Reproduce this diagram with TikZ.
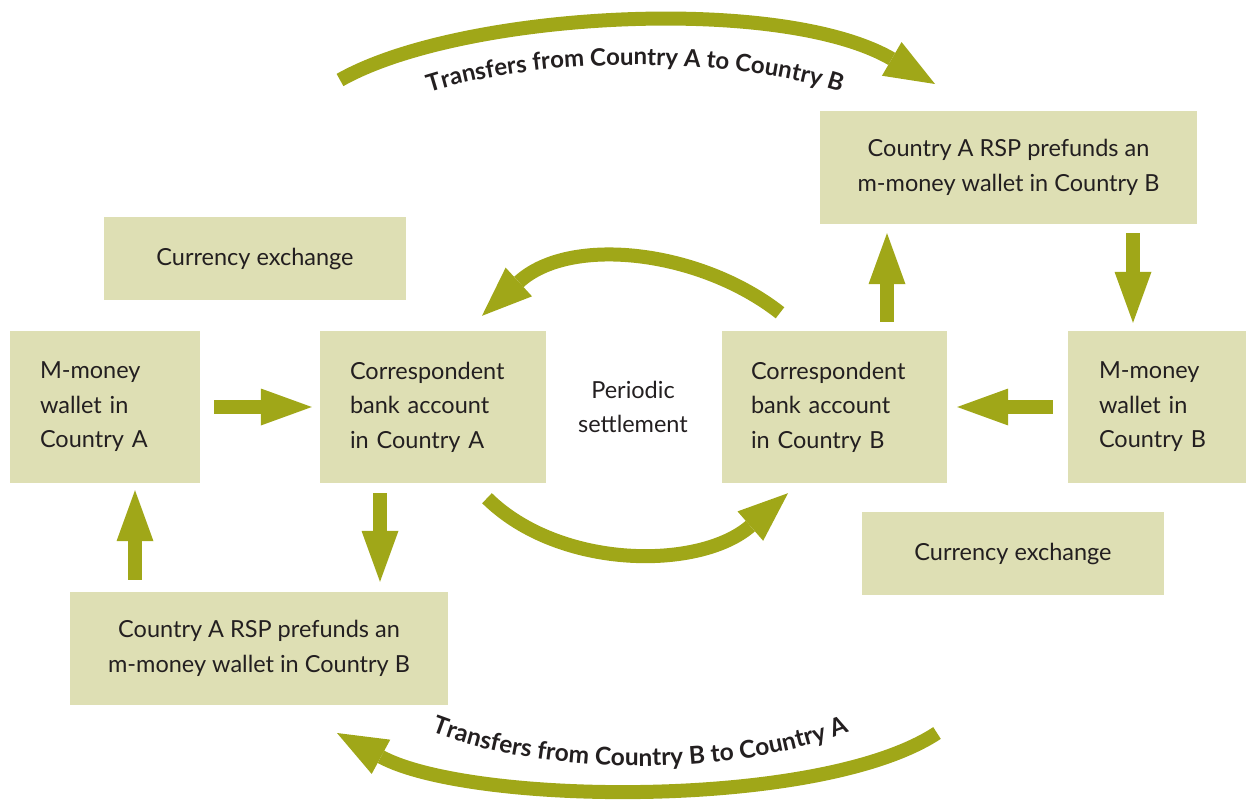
\documentclass[tikz,border=0pt]{standalone}
\usepackage{fontspec}
\setmainfont{Lato}
\usetikzlibrary{arrows.meta,calc,decorations.text}
\definecolor{boxc}{RGB}{222,223,180}
\definecolor{arrc}{RGB}{160,167,24}
\definecolor{textc}{RGB}{35,31,32}
\tikzset{
  box/.style={fill=boxc, text=textc, inner sep=0pt, font=\fontsize{23.5}{34.5}\selectfont},
  bigarrow/.style={draw=arrc, line width=14pt, -{Triangle[width=37pt,length=51pt,line width=0pt]}},
  curvarrow/.style={draw=arrc, line width=14pt, -{Triangle[width=39pt,length=50pt,line width=0pt]}},
  plain/.style={text=textc, inner sep=0pt, font=\fontsize{23.5}{34.5}\selectfont, align=center}
}
\begin{document}
\begin{tikzpicture}[x=1pt,y=-1pt]
\useasboundingbox (0,0) rectangle (1247,800);
% boxes
\node[box, minimum width=377pt, minimum height=113pt, align=center] (tr) at (1008.5,167.5) {Country A RSP prefunds an\\m-money wallet in Country B};
\node[box, minimum width=302pt, minimum height=83pt] (cxA) at (255,258.5) {Currency exchange};
\node[box, minimum width=190pt, minimum height=152pt, text width=130pt, align=left] (mA) at (105,407) {M-money\\wallet in\\Country A};
\node[box, minimum width=226pt, minimum height=152pt, text width=166pt, align=left] (cA) at (433,407) {Correspondent\\bank account\\in Country A};
\node[plain] (ps) at (633,407) {Periodic\\settlement};
\node[box, minimum width=225pt, minimum height=152pt, text width=167pt, align=left] (cB) at (834.5,407) {Correspondent\\bank account\\in Country B};
\node[box, minimum width=178pt, minimum height=152pt, text width=116pt, align=left] (mB) at (1157,407) {M-money\\wallet in\\Country B};
\node[box, minimum width=302pt, minimum height=83pt] (cxB) at (1013,553.5) {Currency exchange};
\node[box, minimum width=378pt, minimum height=113pt, align=center] (bl) at (259,648.5) {Country A RSP prefunds an\\m-money wallet in Country B};
% straight arrows
\draw[bigarrow, shorten <=14pt, shorten >=8pt] (mA) -- (cA);
\draw[bigarrow, shorten <=15pt, shorten >=10pt] (mB) -- (cB);
\draw[bigarrow, shorten <=12pt, shorten >=7pt] ([xshift=30pt]bl.north -| mA.south) -- ([xshift=30pt]mA.south);
\draw[bigarrow, shorten <=10pt, shorten >=10pt] ([xshift=-53pt]cA.south) -- ([xshift=-53pt]cA.south |- bl.north);
\draw[bigarrow, shorten <=9pt, shorten >=9pt] ([xshift=52.5pt]cB.north) -- ([xshift=52.5pt]cB.north |- tr.south);
\draw[bigarrow, shorten <=9pt, shorten >=8pt] ([xshift=-24pt]mB.north |- tr.south) -- ([xshift=-24pt]mB.north);
% curved settlement arrows
\coordinate (u1) at ($(cB.north)+(-54.5,-18)$);
\coordinate (u2) at ($(cA.north)+(49,-15)$);
\draw[curvarrow] (u1) .. controls (700,250) and (570,235) .. (u2);
\coordinate (l1) at ($(cA.south)+(54,15)$);
\coordinate (l2) at ($(cB.south)+(-46.5,10)$);
\draw[curvarrow] (l1) .. controls (560,570) and (700,570) .. (l2);
% big transfer arcs
\coordinate (t1) at (340,80);
\coordinate (t2) at (935,84);
\draw[curvarrow] (t1) .. controls (460,12) and (780,-6) .. (t2);
\coordinate (b1) at (937,733);
\coordinate (b2) at (337,733);
\draw[curvarrow] (b1) .. controls (820,810) and (470,805) .. (b2);
% arc labels
\path[decorate, decoration={text along path, text align=center,
  text={|\fontsize{24}{27}\selectfont\bfseries\color{textc}|Transfers from Country A to Country B}}]
  (385,110) .. controls (505,50) and (765,50) .. (885,110);
\path[decorate, decoration={text along path, text align=center,
  text={|\fontsize{24.5}{27}\selectfont\bfseries\color{textc}|Transfers from Country B to Country A}}]
  (400,718) .. controls (525,782) and (755,782) .. (880,718);
\end{tikzpicture}
\end{document}
